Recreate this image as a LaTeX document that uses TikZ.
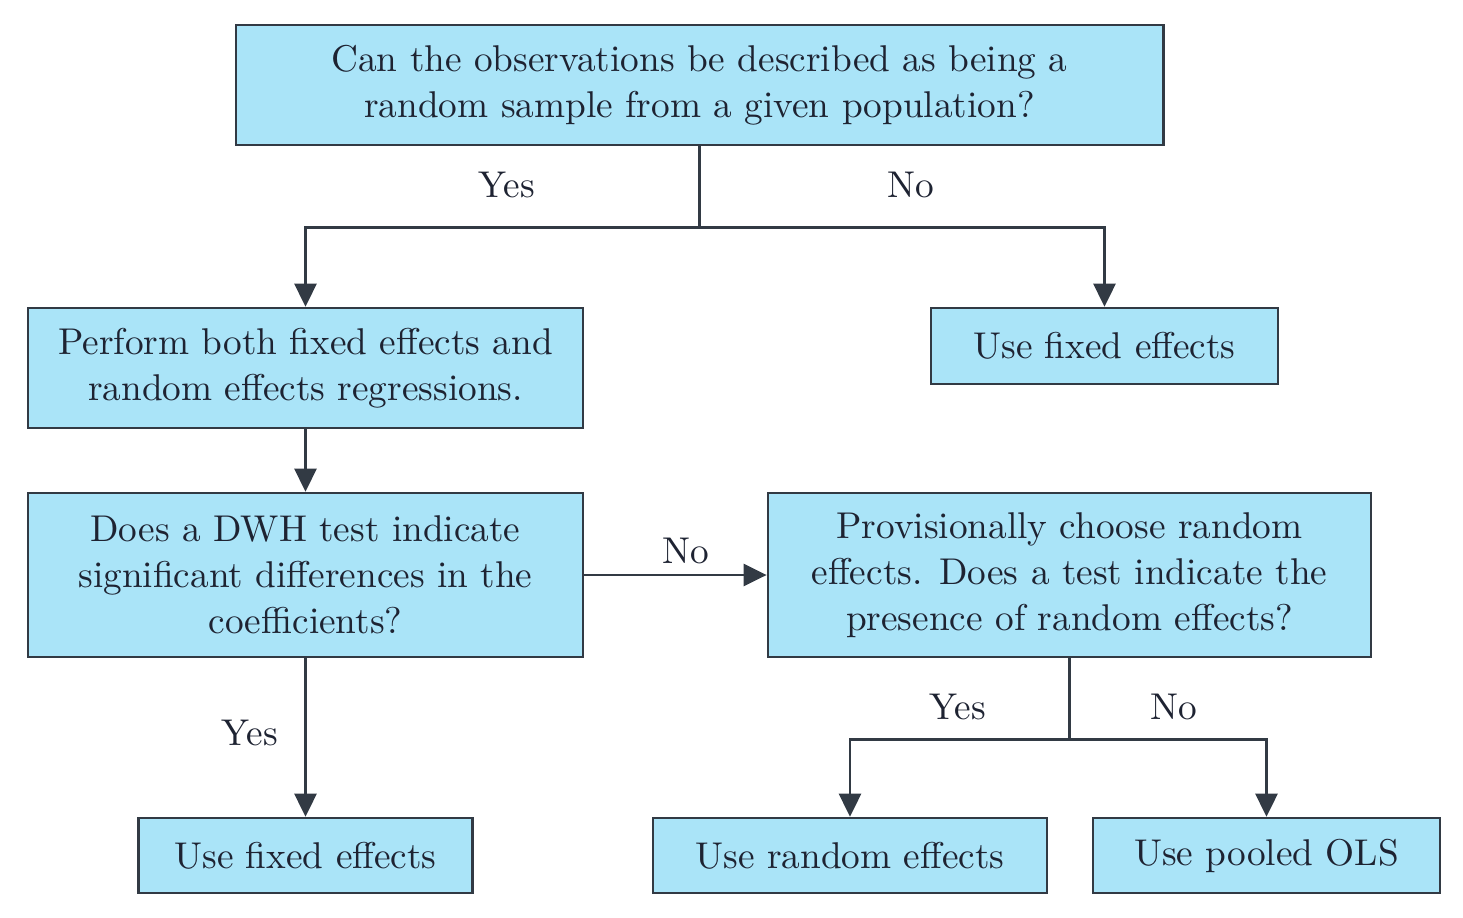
\documentclass[tikz,border=0pt]{standalone}
\usepackage{tikz}
\usetikzlibrary{arrows.meta}
\definecolor{boxfill}{RGB}{170,228,248}
\definecolor{boxline}{RGB}{50,58,68}
\definecolor{txt}{RGB}{30,35,50}

\begin{document}
\begin{tikzpicture}[x=0.01cm, y=-0.01cm,
    box/.style={draw=boxline, line width=0.7pt, fill=boxfill, align=center, inner sep=0pt,
                text=txt, font=\fontsize{10.6}{13.1}\selectfont},
    lbl/.style={text=txt, font=\fontsize{10.6}{13.1}\selectfont},
    conn/.style={draw=boxline, line width=0.7pt, -{Triangle[width=0.22cm,length=0.23cm]}}]
    \useasboundingbox (0,0) rectangle (1463,918);

    % boxes
    \node[box, minimum width=9.27cm, minimum height=1.20cm] (q1) at (699.5,85)
        {Can the observations be described as being a\\random sample from a given population?};
    \node[box, minimum width=5.55cm, minimum height=1.20cm] (both) at (305.5,368)
        {Perform both fixed effects and\\random effects regressions.};
    \node[box, minimum width=3.47cm, minimum height=0.76cm] (fe1) at (1104.5,346)
        {Use fixed effects};
    \node[box, minimum width=5.55cm, minimum height=1.64cm] (dwh) at (305.5,575)
        {Does a DWH test indicate\\significant differences in the\\coefficients?};
    \node[box, minimum width=6.03cm, minimum height=1.64cm] (prov) at (1069.5,575)
        {Provisionally choose random\\effects. Does a test indicate the\\presence of random effects?};
    \node[box, minimum width=3.34cm, minimum height=0.75cm] (fe2) at (305.5,855.5)
        {Use fixed effects};
    \node[box, minimum width=3.94cm, minimum height=0.75cm] (re) at (850,855.5)
        {Use random effects};
    \node[box, minimum width=3.47cm, minimum height=0.75cm] (ols) at (1266.5,855.5)
        {Use pooled OLS};

    % split points
    \coordinate (s1) at ([yshift=-0.81cm]q1.south);
    \coordinate (s2) at ([yshift=-0.81cm]prov.south);

    % connectors
    \draw[boxline, line width=0.7pt] (q1.south) -- (s1);
    \draw[conn] (s1) -| (both.north);
    \draw[conn] (s1) -| (fe1.north);
    \draw[conn] (both) -- (dwh);
    \draw[conn] (dwh) -- (prov);
    \draw[conn] (dwh) -- (fe2);
    \draw[boxline, line width=0.7pt] (prov.south) -- (s2);
    \draw[conn] (s2) -| (re.north);
    \draw[conn] (s2) -| (ols.north);

    % labels
    \node[lbl] (y1) at (507,185) {Yes};
    \node[lbl] (n1) at (911,185) {No};
    \node[lbl] (n2) at (686,551) {No};
    \node[lbl] (y2) at (250,733) {Yes};
    \node[lbl] (y3) at (958,707) {Yes};
    \node[lbl] (n3) at (1174,707) {No};
\end{tikzpicture}
\end{document}
